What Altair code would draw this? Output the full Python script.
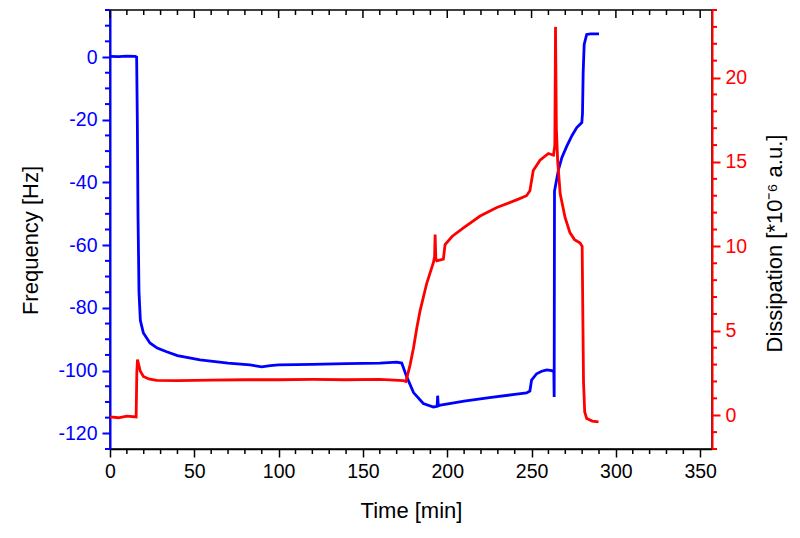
import altair as alt
import pandas as pd

# ---------------- data ----------------
freq_time = [0, 5, 10, 15, 15.8, 16.2, 16.6, 17.2, 18, 19.8, 23.7, 28, 33.6, 40, 53.4, 70, 83, 90, 95,
             100, 120, 140, 160, 170, 173, 176, 180, 185.8, 191.8, 194, 194.3, 194.7, 196, 210, 225,
             240, 247, 249, 250, 253, 256, 259, 262, 263.2, 263.4, 263.6, 266, 268, 270.9, 274, 276.8,
             279.8, 280.2, 280.6, 281.2, 282.7, 285, 290]
freq_val = [0.2, 0.1, 0.3, 0.2, 0, -20, -50, -75, -84, -88, -91.2, -92.8, -94, -95.2, -96.6, -97.6, -98.2,
            -98.8, -98.4, -98.2, -98.0, -97.8, -97.6, -97.3, -97.6, -102, -107, -110.5, -111.6, -111.4,
            -108, -111.2, -111, -109.7, -108.6, -107.6, -107.1, -106.5, -103, -101, -100.2, -99.8, -100,
            -100.3, -108.4, -42.8, -35.8, -32, -28.4, -25, -22.5, -20.9, -18, -5, 4, 7.2, 7.4, 7.4]

diss_time = [0, 5, 10, 15.5, 15.9, 16.3, 17, 18, 19.8, 23, 27.7, 40, 60, 80, 100, 120, 140, 160, 174,
             175.5, 178, 180, 182, 183.9, 187.8, 191.8, 192.5, 192.8, 193.2, 193.8, 197.7, 198.7, 203,
             209.6, 219.5, 229.4, 242.2, 247, 249, 251, 255, 260, 263, 263.8, 264.2, 264.7, 265.5, 267,
             269.9, 272.8, 275.5, 278.8, 280, 280.4, 280.8, 281.5, 282.7, 286, 289.7]
diss_val = [-0.1, -0.15, -0.05, -0.1, 2.5, 3.3, 3.0, 2.6, 2.3, 2.15, 2.07, 2.05, 2.08, 2.1, 2.1, 2.12,
            2.1, 2.12, 2.05, 2.0, 3.0, 4.0, 5.2, 6.2, 7.8, 9.05, 9.4, 10.7, 9.3, 9.15, 9.25, 10.1, 10.6,
            11.1, 11.8, 12.3, 12.8, 13.0, 13.3, 14.5, 15.1, 15.5, 15.4, 16, 23.0, 17, 15.0, 13.1, 11.7,
            10.8, 10.4, 10.2, 10.0, 6, 2, 0.2, -0.2, -0.35, -0.4]

x_major = [0, 50, 100, 150, 200, 250, 300, 350]
x_minor = [v for v in range(0, 360, 10) if v % 50 != 0]
freq_major = [-120, -100, -80, -60, -40, -20, 0]
freq_minor = [v for v in range(-125, 16, 5) if v % 20 != 0]
diss_major = [0, 5, 10, 15, 20]
diss_minor = [v for v in range(-2, 25) if v % 5 != 0]

# ---------------- layout ----------------
W, H = 602, 439
BLUE, RED = "#0000ff", "#ff0000"
FONT = "Liberation Sans"
LFS = 19.5
TFS = 22
X_DOM = [0, 357]
F_DOM = [-125, 15]
D_DOM = [-2, 24]
LW = 2.8

freq_df = pd.DataFrame({"t": freq_time, "f": freq_val, "i": range(len(freq_time))})
diss_df = pd.DataFrame({"t": diss_time, "d": diss_val, "i": range(len(diss_time))})

xs = alt.Scale(domain=X_DOM, nice=False, zero=False)
x_axis = alt.Axis(
    title="Time [min]", values=x_major, labelExpr="'' + datum.value", grid=False, labelFlush=False,
    domainColor="black", domainWidth=1.5, tickColor="black", tickWidth=1.5, tickSize=8,
    labelColor="black", labelFont=FONT, labelFontSize=LFS, labelPadding=5,
    titleFont=FONT, titleFontSize=TFS, titleFontWeight="normal", titleColor="black",
    titlePadding=20)


def X(field):
    return alt.X(field, scale=xs, axis=x_axis)


blue = alt.Chart(freq_df).mark_line(color=BLUE, strokeWidth=LW).encode(
    x=X("t:Q"),
    y=alt.Y("f:Q", scale=alt.Scale(domain=F_DOM, nice=False, zero=False), axis=alt.Axis(
        orient="left", title="Frequency [Hz]", values=freq_major, labelExpr="'' + datum.value",
        grid=False, labelFlush=False,
        domainColor=BLUE, domainWidth=2, tickColor=BLUE, tickWidth=2, tickSize=8,
        labelColor=BLUE, labelFont=FONT, labelFontSize=LFS, labelPadding=5,
        titleFont=FONT, titleFontSize=TFS, titleFontWeight="normal", titleColor="black",
        titleAngle=270, titleX=-80, titleY=230, titleAlign="center", titleBaseline="middle")),
    order="i:Q",
)

red = alt.Chart(diss_df).mark_line(color=RED, strokeWidth=LW).encode(
    x=X("t:Q"),
    y=alt.Y("d:Q", scale=alt.Scale(domain=D_DOM, nice=False, zero=False), axis=alt.Axis(
        orient="right", title="Dissipation [*10⁻⁶ a.u.]", values=diss_major,
        labelExpr="'' + datum.value", grid=False, labelFlush=False,
        domainColor=RED, domainWidth=2, tickColor=RED, tickWidth=2, tickSize=8,
        labelColor=RED, labelFont=FONT, labelFontSize=LFS, labelPadding=5,
        titleFont=FONT, titleFontSize=TFS, titleFontWeight="normal", titleColor="black",
        titleAngle=270, titleX=62, titleY=233, titleAlign="center", titleBaseline="middle")),
    order="i:Q",
)

# minor ticks and inward top ticks
bx_minor = alt.Chart(pd.DataFrame({"t": x_minor})).mark_rule(color="black", strokeWidth=1.5).encode(
    x=X("t:Q"), y=alt.value(H), y2=alt.value(H + 5))
top_major = alt.Chart(pd.DataFrame({"t": x_major})).mark_rule(color="black", strokeWidth=1.5).encode(
    x=X("t:Q"), y=alt.value(0), y2=alt.value(8))
top_minor = alt.Chart(pd.DataFrame({"t": x_minor})).mark_rule(color="black", strokeWidth=1.5).encode(
    x=X("t:Q"), y=alt.value(0), y2=alt.value(5))
left_minor = alt.Chart(pd.DataFrame({"v": freq_minor})).mark_rule(color=BLUE, strokeWidth=2).encode(
    y=alt.Y("v:Q", scale=alt.Scale(domain=F_DOM, nice=False, zero=False), axis=None),
    x=alt.value(0), x2=alt.value(-5))
right_minor = alt.Chart(pd.DataFrame({"v": diss_minor})).mark_rule(color=RED, strokeWidth=2).encode(
    y=alt.Y("v:Q", scale=alt.Scale(domain=D_DOM, nice=False, zero=False), axis=None),
    x=alt.value(W), x2=alt.value(W + 5))

chart = alt.layer(blue, red, bx_minor, top_major, top_minor, left_minor, right_minor).resolve_scale(
    y="independent"
).properties(
    width=W, height=H,
    autosize=alt.AutoSizeParams(type="none"),
    padding={"left": 102, "top": 2, "right": 80, "bottom": 81},
).configure_view(stroke="black", strokeWidth=1.5)

chart.save("out.html", embed_options={"renderer": "svg", "actions": False})
